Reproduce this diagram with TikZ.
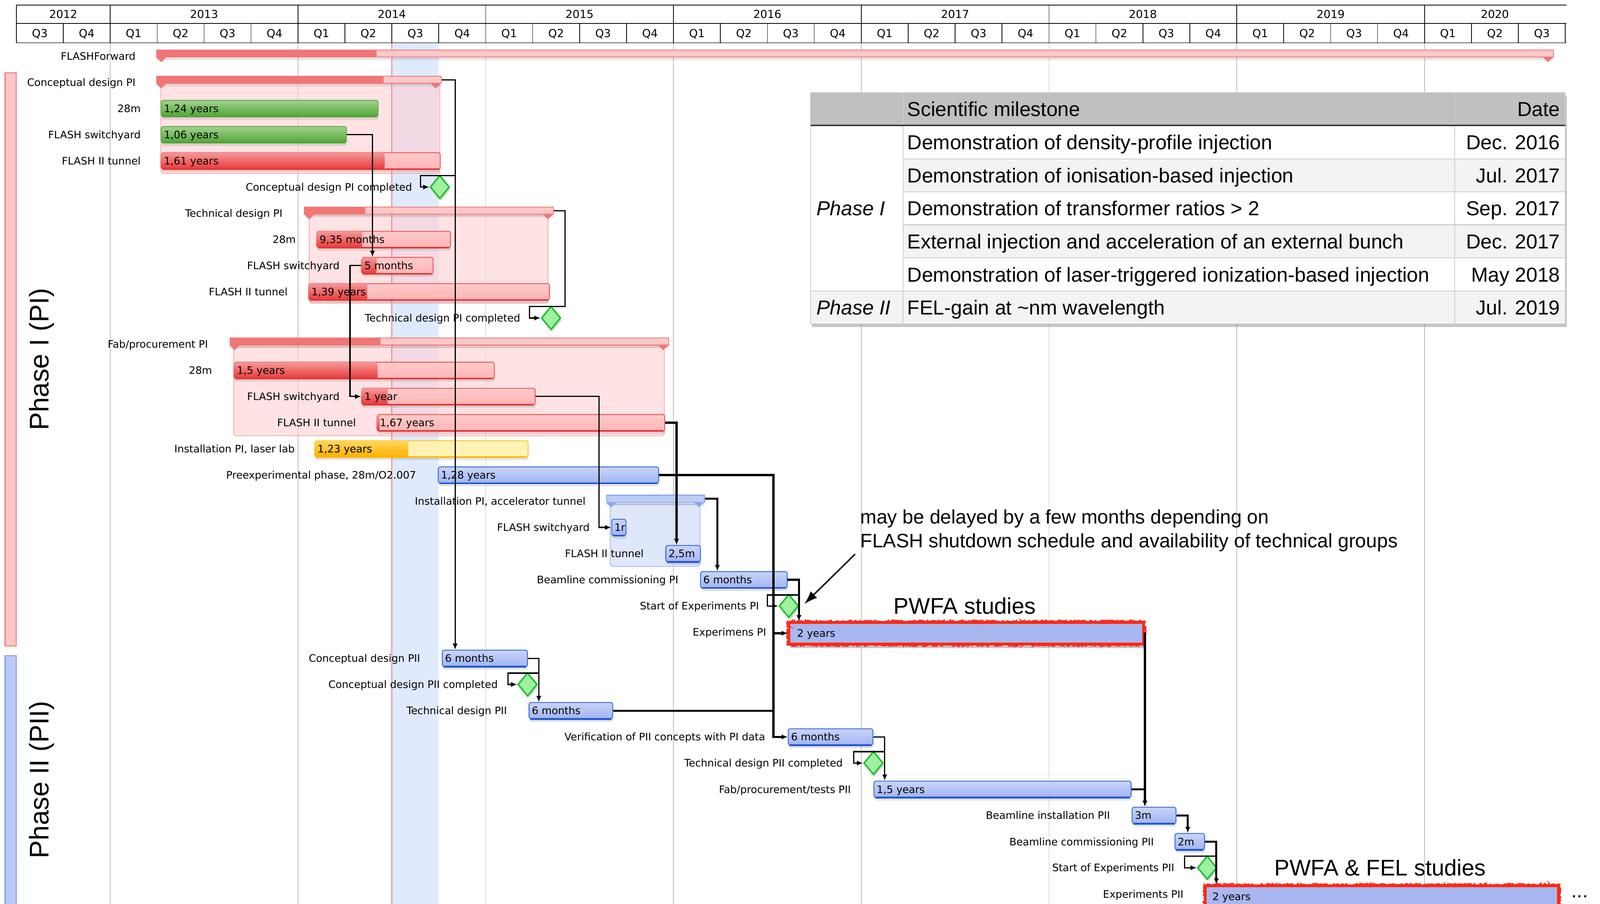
\documentclass[tikz,border=0pt]{standalone}
\usepackage{fontspec}
\usetikzlibrary{arrows.meta,shadows,decorations.pathmorphing,shapes.geometric}
\newfontfamily\lucida{DejaVu Sans}
\newfontfamily\helv{Liberation Sans}
\newcommand\lf{\lucida\fontsize{10.1}{12}\selectfont}
\newcommand\hf{\lucida\fontsize{10.8}{13}\selectfont}
\newcommand\tf{\helv\fontsize{19.8}{24}\selectfont}
\newcommand\nf{\helv\fontsize{19.1}{23}\selectfont}
\newcommand\bigf{\helv\fontsize{22.2}{26}\selectfont}
\newcommand\phf{\helv\fontsize{26.4}{30}\selectfont}
\definecolor{gridC}{HTML}{BDBDBD}
\definecolor{todayFill}{HTML}{DFEAFD}
\definecolor{todayRed}{HTML}{F26C6C}
\definecolor{hdrGrey}{HTML}{8C8C8C}
\definecolor{redEdge}{HTML}{EB5A5A}
\definecolor{redRemTop}{HTML}{FFCACA}
\definecolor{redRemBot}{HTML}{FFB5B5}
\definecolor{redDoneTop}{HTML}{F69898}
\definecolor{redDoneBot}{HTML}{E83B3B}
\definecolor{redDark}{HTML}{E63434}
\definecolor{greenEdge}{HTML}{62AD4C}
\definecolor{greenTop}{HTML}{A2D28E}
\definecolor{greenBot}{HTML}{4FA636}
\definecolor{greenDark}{HTML}{48A02E}
\definecolor{blueEdge}{HTML}{3E72DA}
\definecolor{blueDark}{HTML}{2459D4}
\definecolor{blueTop}{HTML}{C9D4FA}
\definecolor{blueBot}{HTML}{A2B5F1}
\definecolor{yelEdge}{HTML}{FFC52E}
\definecolor{yelDark}{HTML}{FFB400}
\definecolor{yelRem}{HTML}{FFF2B3}
\definecolor{yelDoneTop}{HTML}{FFD75C}
\definecolor{yelDoneBot}{HTML}{FFB000}
\definecolor{sumRedEdge}{HTML}{EF7777}
\definecolor{sumRedRem}{HTML}{FFC7C7}
\definecolor{sumRedDone}{HTML}{F07676}
\definecolor{sumBlueEdge}{HTML}{8CA7EA}
\definecolor{sumBlueRem}{HTML}{BDCCF6}
\definecolor{grpRedFill}{HTML}{FFCFD2}
\definecolor{grpRedEdge}{HTML}{F3B2B4}
\definecolor{grpBlueFill}{HTML}{D2DEFA}
\definecolor{grpBlueEdge}{HTML}{A8C0F2}
\definecolor{msEdge}{HTML}{1EC02C}
\definecolor{msFill}{HTML}{9FF0A1}
\definecolor{expFill}{HTML}{A9B7F0}
\definecolor{expRed}{HTML}{FF2814}
\definecolor{phIfill}{HTML}{FFC6C7}
\definecolor{phIedge}{HTML}{F28B8D}
\definecolor{phIIfill}{HTML}{BCCBF6}
\definecolor{phIIedge}{HTML}{8FA8E8}
\definecolor{tabHead}{HTML}{BFC1C0}
\definecolor{tabZebra}{HTML}{F3F3F3}
\definecolor{tabGrid}{HTML}{CDCDCD}
\definecolor{tabDark}{HTML}{3C3C3C}

% task bar: name, x1, x2, xprogress, y, style, done style, text
\newcommand\GTask[8]{%
  \node[#6, minimum width={(#3)-(#2)}, anchor=west] (#1) at (#2,#5) {};
  \ifx&#4&\else\path[#7] (#2,#5-8) rectangle (#4,#5+8);\fi
  \draw[#6bottom] ([xshift=1.8pt,yshift=0.4pt]#1.south west) -- ([xshift=-1.8pt,yshift=0.4pt]#1.south east);
  \node[bartext] (#1t) at (#2+3,#5+3.7) {#8};}
% summary bar: name, x1, x2, xprogress, y, scheme
\newcommand\GSum[6]{%
  \node[sumbase, sum#6, minimum width={(#3)-(#2)}, anchor=west] (#1) at (#2,#5-2.5) {};
  \ifx&#4&\else\fill[sum#6done] (#2,#5-6) rectangle (#4,#5+1);\fi
  \fill[sum#6tri] (#2,#5+1) -- ++(10,0) -- ++(-5,5) -- cycle;
  \fill[sum#6tri] (#3,#5+1) -- ++(-10,0) -- ++(5,5) -- cycle;}

\begin{document}
\begin{tikzpicture}[x=1pt,y=-1pt,
  lbl/.style={font=\lf, anchor=base east, inner sep=0},
  bartext/.style={font=\lf, anchor=base west, inner sep=0},
  tbase/.style={minimum height=16, inner sep=0, rounded corners=2.2, line width=0.9,
     drop shadow={opacity=0.22, shadow xshift=0.5pt, shadow yshift=-3pt}},
  redbar/.style={tbase, draw=redEdge, top color=redRemTop, bottom color=redRemBot},
  redbarbottom/.style={draw=redDark, line width=1.5},
  reddone/.style={top color=redDoneTop, bottom color=redDoneBot, rounded corners=2.2},
  greenbar/.style={tbase, draw=greenEdge, top color=greenTop, bottom color=greenBot},
  greenbarbottom/.style={draw=greenDark, line width=1.2},
  bluebar/.style={tbase, draw=blueEdge, top color=blueTop, bottom color=blueBot},
  bluebarbottom/.style={draw=blueDark, line width=1.8},
  yelbar/.style={tbase, draw=yelEdge, fill=yelRem},
  yelbarbottom/.style={draw=yelDark, line width=1.5},
  yeldone/.style={top color=yelDoneTop, bottom color=yelDoneBot, rounded corners=2.2},
  sumbase/.style={minimum height=7, inner sep=0, line width=0.8,
     drop shadow={opacity=0.2, shadow xshift=0pt, shadow yshift=-3pt}},
  sumred/.style={draw=sumRedEdge, fill=sumRedRem},
  sumreddone/.style={fill=sumRedDone},
  sumredtri/.style={fill=sumRedEdge},
  sumblue/.style={draw=sumBlueEdge, fill=sumBlueRem},
  sumbluetri/.style={fill=sumBlueEdge},
  grpred/.style={fill=grpRedFill, fill opacity=0.6, draw=grpRedEdge, line width=0.8, rounded corners=3},
  grpblue/.style={fill=grpBlueFill, fill opacity=0.7, draw=grpBlueEdge, line width=0.8, rounded corners=3},
  mstone/.style={diamond, draw=msEdge, fill=msFill, line width=1.5, minimum width=19, minimum height=23, inner sep=0,
     drop shadow={opacity=0.3, shadow xshift=1.5pt, shadow yshift=-2pt}},
  expbar/.style={minimum height=21, inner sep=0, fill=expFill, draw=expRed, line width=2.6,
     drop shadow={opacity=0.45, shadow xshift=1pt, shadow yshift=-4pt}},
  rough/.style={draw=expRed, line width=1.3, decorate, decoration={random steps, segment length=1.1pt, amplitude=1pt}},
  conn/.style={draw=black, line width=1.2, -{Latex[length=6pt,width=5pt]}},
  connthick/.style={conn, line width=2},
  plain/.style={draw=black, line width=2},
  tabgrid/.style={draw=tabGrid, line width=0.9},
  tt/.style={font=\tf, inner sep=0}
]
\useasboundingbox (0,0) rectangle (1568,885.66);
\fill[white] (0,0) rectangle (1568,885.66);

% today column and grid
\fill[todayFill] (384,42) rectangle (430,890);
\foreach \k in {0,...,7} \draw[gridC, line width=0.6] (108+184*\k,42) -- (108+184*\k,890);

% header
\draw[black, line width=0.8] (16,5) -- (1535,5);
\draw[black, line width=0.8] (16,23) -- (1535,23);
\draw[hdrGrey, line width=1.2] (16,42) -- (1535,42);
\draw[black, line width=0.6] (16,5) -- (16,42);
\foreach \k in {0,...,7} \draw[black, line width=0.6] (108+184*\k,5) -- (108+184*\k,23);
\foreach \j in {1,...,33} \draw[black, line width=0.6] (16+46*\j,23) -- (16+46*\j,42);
\node[font=\hf, anchor=base, inner sep=0] (y2012) at (62,17.9) {2012};
\foreach \yr [count=\i from 0] in {2013,2014,2015,2016,2017,2018,2019}
  \node[font=\hf, anchor=base, inner sep=0] (y\yr) at (200+184*\i,17.9) {\yr};
\node[font=\hf, anchor=base, inner sep=0] (y2020) at (1465,17.9) {2020};
\foreach \j in {0,...,32}{
  \pgfmathtruncatemacro\q{mod(\j+2,4)+1}
  \node[font=\hf, anchor=base, inner sep=0] (q\j) at (39+46*\j,36.4) {Q\q};
}

% group backgrounds
\path[grpred] (157.5,82) rectangle (431,170);
\path[grpred] (303,211) rectangle (537,297);
\path[grpred] (229,340) rectangle (651,427);
\path[grpblue] (598,494) rectangle (686,555);

% today line
\draw[todayRed, line width=0.8] (384,42) -- (384,890);

% phase side bars
\draw[fill=phIfill, draw=phIedge, line width=1.2] (5,71.4) rectangle (16,633);
\draw[fill=phIIfill, draw=phIIedge, line width=1.2] (5,642.5) rectangle (16,895);
\node[font=\phf, rotate=90, anchor=base, inner sep=0] (ph1) at (47.7,352) {Phase I (PI)};
\node[font=\phf, rotate=90, anchor=base, inner sep=0] (ph2) at (47.7,764) {Phase II (PII)};

% labels
\node[lbl] (l1) at (133,58.7) {FLASHForward};
\node[lbl] (l2) at (133,84.4) {Conceptual design PI};
\node[lbl] (l3) at (138,110.0) {28m};
\node[lbl] (l4) at (138,135.7) {FLASH switchyard};
\node[lbl] (l5) at (138,161.3) {FLASH II tunnel};
\node[lbl] (l6) at (404,187.0) {Conceptual design PI completed};
\node[lbl] (l7) at (277,212.6) {Technical design PI};
\node[lbl] (l8) at (290,238.3) {28m};
\node[lbl] (l9) at (333,263.9) {FLASH switchyard};
\node[lbl] (l10) at (282,289.6) {FLASH II tunnel};
\node[lbl] (l11) at (510,315.3) {Technical design PI completed};
\node[lbl] (l12) at (204,340.9) {Fab/procurement PI};
\node[lbl] (l13) at (208,366.6) {28m};
\node[lbl] (l14) at (333,392.2) {FLASH switchyard};
\node[lbl] (l15) at (349,417.9) {FLASH II tunnel};
\node[lbl] (l16) at (289,443.5) {Installation PI, laser lab};
\node[lbl] (l17) at (408,469.2) {Preexperimental phase, 28m/O2.007};
\node[lbl] (l18) at (574,494.9) {Installation PI, accelerator tunnel};
\node[lbl] (l19) at (578,520.5) {FLASH switchyard};
\node[lbl] (l20) at (631,546.2) {FLASH II tunnel};
\node[lbl] (l21) at (665,571.8) {Beamline commissioning PI};
\node[lbl] (l22) at (744,597.5) {Start of Experiments PI};
\node[lbl] (l23) at (751,623.1) {Experimens PI};
\node[lbl] (l24) at (412,648.8) {Conceptual design PII};
\node[lbl] (l25) at (488,674.4) {Conceptual design PII completed};
\node[lbl] (l26) at (497,700.1) {Technical design PII};
\node[lbl] (l27) at (750,725.8) {Verification of PII concepts with PI data};
\node[lbl] (l28) at (826,751.4) {Technical design PII completed};
\node[lbl] (l29) at (834,777.1) {Fab/procurement/tests PII};
\node[lbl] (l30) at (1088,802.7) {Beamline installation PII};
\node[lbl] (l31) at (1131,828.4) {Beamline commissioning PII};
\node[lbl] (l32) at (1151,854.0) {Start of Experiments PII};
\node[lbl] (l33) at (1160,879.7) {Experiments PII};

% summary bars
\GSum{ffS}{153}{1522}{369}{55.0}{red}
\GSum{cdS}{153}{432}{376}{80.7}{red}
\GSum{tdS}{298}{542}{358}{208.9}{red}
\GSum{fpS}{225}{655}{373}{337.2}{red}
\GSum{iaS}{594}{690}{}{491.2}{blue}

% task bars
\GTask{cd28}{157.5}{370}{}{106.3}{greenbar}{}{1,24 years}
\GTask{cdSw}{157.5}{339}{}{132.0}{greenbar}{}{1,06 years}
\GTask{cdTun}{157.5}{431}{377}{157.6}{redbar}{reddone}{1,61 years}
\GTask{td28}{310}{441}{355}{234.6}{redbar}{reddone}{9,35 months}
\GTask{tdSw}{354}{424}{369}{260.2}{redbar}{reddone}{5 months}
\GTask{tdTun}{302}{538}{360}{285.9}{redbar}{reddone}{1,39 years}
\GTask{fp28}{229}{484}{370}{362.9}{redbar}{reddone}{1,5 years}
\GTask{fpSw}{354}{524}{380}{388.5}{redbar}{reddone}{1 year}
\GTask{fpTun}{369}{651}{372}{414.2}{redbar}{reddone}{1,67 years}
\GTask{ilab}{308}{517}{400}{439.8}{yelbar}{yeldone}{1,23 years}
\GTask{pre}{429}{645}{}{465.5}{bluebar}{}{1,28 years}
\GTask{iaSw}{599}{613}{}{516.8}{bluebar}{}{1r}
\GTask{iaTun}{652}{686}{}{542.5}{bluebar}{}{2,5m}
\GTask{bcPI}{686}{771}{}{568.1}{bluebar}{}{6 months}
\GTask{cd2}{433}{516.5}{}{645.1}{bluebar}{}{6 months}
\GTask{td2}{518}{600}{}{696.4}{bluebar}{}{6 months}
\GTask{ver}{772}{855}{}{722.1}{bluebar}{}{6 months}
\GTask{fp2}{856}{1108}{}{773.4}{bluebar}{}{1,5 years}
\GTask{bi2}{1109}{1152}{}{799.0}{bluebar}{}{3m}
\GTask{bc2}{1151}{1180}{}{824.7}{bluebar}{}{2m}

% experiment bars
\node[expbar, minimum width=347.5, anchor=west] (exPI) at (772,620.5) {};
\draw[rough] (exPI.north west) rectangle (exPI.south east);
\node[bartext] (exPIt) at (781,624.2) {2 years};
\node[expbar, minimum width=346, anchor=west] (ex2) at (1180,878.5) {};
\draw[rough] (ex2.north west) rectangle (ex2.south east);
\node[bartext] (ex2t) at (1188,882.2) {2 years};

% milestones
\node[mstone] (msCD) at (431,183.3) {};
\node[mstone] (msTD) at (540,311.6) {};
\node[mstone] (msEx) at (773,593.8) {};
\node[mstone] (msCD2) at (517,670.7) {};
\node[mstone] (msTD2) at (856,747.7) {};
\node[mstone] (msEx2) at (1183,850.3) {};

% connectors
\draw[conn] (cdS.east) -| ([xshift=13pt]cd2.north west);
\coordinate (b1) at (446,172);
\draw[conn] (b1) -- ++(-34,0) |- (msCD.west);
\draw[conn] (cdSw.east) -| ([xshift=11pt]tdSw.north west);
\draw[conn] (tdS.east) -- ++(11,0) -- ++(0,94) -| ([xshift=-11pt]msTD.west) -- (msTD.west);
\draw[conn] (tdSw.west) -- ++(-11,0) |- (fpSw.west);
\draw[conn] (fpSw.east) -| ([xshift=-12pt]iaSw.west) -- (iaSw.west);
\draw[connthick] (fpTun.east) -| ([xshift=11pt]iaTun.north west);
\draw[connthick] (iaS.east) -| ([xshift=17pt]bcPI.north west);
\draw[connthick] (bcPI.east) -| ([xshift=11pt]exPI.north west);
\coordinate (b2) at (783,583);
\draw[conn] (b2) -- ++(-31,0) |- (msEx.west);
\draw[connthick] (pre.east) -| ([xshift=-14pt]ver.west) -- (ver.west);
\draw[connthick] ([xshift=-14pt]ver.west |- exPI.west) -- (exPI.west);
\draw[plain] (td2.east) -- ([xshift=-14pt]ver.west |- td2.east);
\draw[conn] (cd2.east) -| ([xshift=10pt]td2.north west);
\coordinate (b3) at (528,659.6);
\draw[conn] (b3) -- ++(-30.3,0) |- (msCD2.west);
\draw[conn] (ver.east) -| ([xshift=11pt]fp2.north west);
\coordinate (b4) at (867,736.5);
\draw[conn] (b4) -- ++(-30.5,0) |- (msTD2.west);
\draw[connthick] (exPI.east) -| ([xshift=13pt]bi2.north west);
\draw[plain] (fp2.east) -- ([xshift=13pt]bi2.north west |- fp2.east);
\draw[connthick] (bi2.east) -| ([xshift=13pt]bc2.north west);
\draw[connthick] (bc2.east) -| ([xshift=12pt]ex2.north west);
\coordinate (b5) at (1192,839);
\draw[conn] (b5) -- ++(-31,0) |- (msEx2.west);

% annotations
\node[font=\nf, anchor=base west, inner sep=0] (n1) at (843,513) {may be delayed by a few months depending on};
\node[font=\nf, anchor=base west, inner sep=0] (n2) at (843,536.5) {FLASH shutdown schedule and availability of technical groups};
\coordinate (na) at (838,543);
\draw[-{Latex[length=13pt,width=9pt]}, line width=1.4] (na) -- ([xshift=5pt,yshift=2pt]msEx.east);
\node[font=\bigf, anchor=base, inner sep=0] (pw1) at (945.5,601.5) {PWFA studies};
\node[font=\bigf, anchor=base, inner sep=0] (pw2) at (1352.5,858) {PWFA \& FEL studies};
\node[font=\tf, anchor=base, inner sep=0] (dots) at (1548,879.5) {...};

% table
\fill[white, drop shadow={opacity=0.45, shadow xshift=1.5pt, shadow yshift=-3pt}] (794.4,90.7) rectangle (1534,317.3);
\fill[tabHead] (794.4,90.7) rectangle (1534,123);
\fill[tabZebra] (885,155.7) rectangle (1534,188);
\fill[tabZebra] (885,220.3) rectangle (1534,252.7);
\fill[tabZebra] (794.4,285.3) rectangle (1534,317.3);
\draw[tabgrid] (885,90.7) -- (885,317.3);
\draw[tabgrid] (1425.6,90.7) -- (1425.6,317.3);
\foreach \yy in {155.7,188,220.3,252.7} \draw[tabgrid] (885,\yy) -- (1534,\yy);
\draw[tabgrid] (794.4,285.3) -- (1534,285.3);
\draw[tabgrid] (794.4,90.7) rectangle (1534,317.3);
\draw[tabDark, line width=1.4] (794.4,123) -- (1534,123);
\node[tt, anchor=base west] (th1) at (889,114) {Scientific milestone};
\node[tt, anchor=base east] (th2) at (1529,114) {Date};
\node[tt, anchor=base west] (t1) at (889,146.5) {Demonstration of density-profile injection};
\node[tt, anchor=base east] (d1) at (1529,146.5) {Dec. 2016};
\node[tt, anchor=base west] (t2) at (889,179) {Demonstration of ionisation-based injection};
\node[tt, anchor=base east] (d2) at (1529,179) {Jul. 2017};
\node[tt, anchor=base west] (t3) at (889,211.3) {Demonstration of transformer ratios > 2};
\node[tt, anchor=base east] (d3) at (1529,211.3) {Sep. 2017};
\node[tt, anchor=base west] (t4) at (889,243.6) {External injection and acceleration of an external bunch};
\node[tt, anchor=base east] (d4) at (1529,243.6) {Dec. 2017};
\node[tt, anchor=base west] (t5) at (889,276.1) {Demonstration of laser-triggered ionization-based injection};
\node[tt, anchor=base east] (d5) at (1529,276.1) {May 2018};
\node[tt, anchor=base west] (t6) at (889,308.4) {FEL-gain at \textasciitilde nm wavelength};
\node[tt, anchor=base east] (d6) at (1529,308.4) {Jul. 2019};
\node[tt, anchor=base west, font=\tf\itshape] (p1) at (800,211.3) {Phase I};
\node[tt, anchor=base west, font=\tf\itshape] (p2) at (800,308.4) {Phase II};
\end{tikzpicture}
\end{document}
